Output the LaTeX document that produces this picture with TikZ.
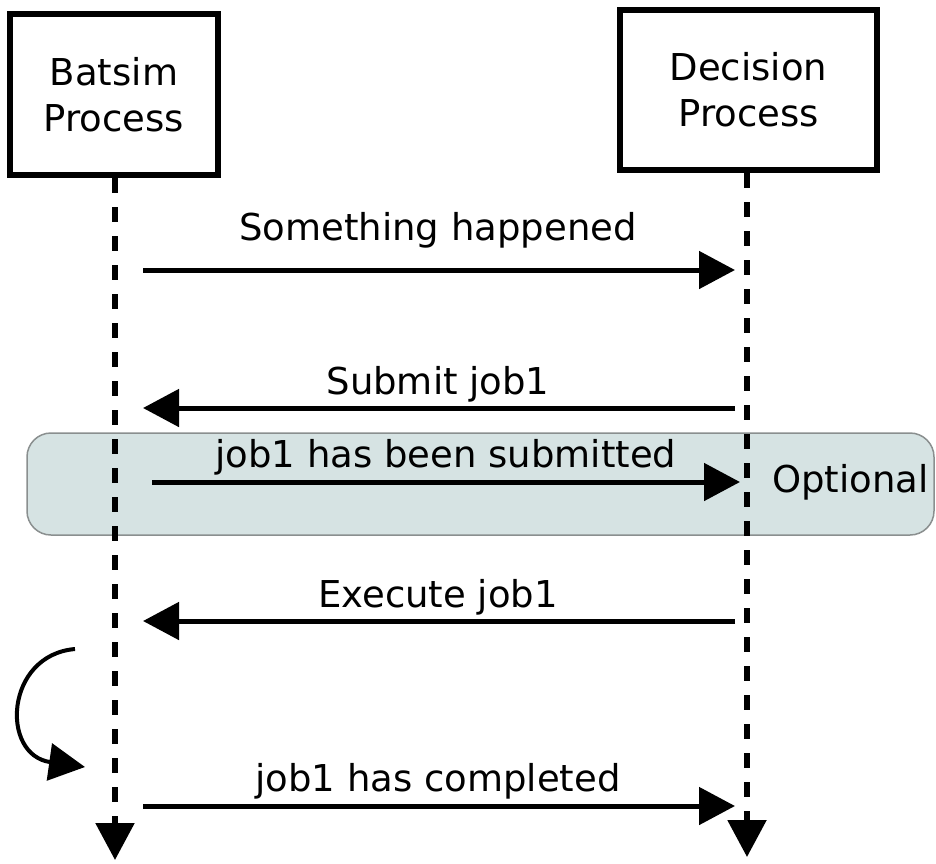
\documentclass[tikz,border=0pt]{standalone}
\usepackage{fontspec}
\setmainfont{DejaVu Sans}
\usetikzlibrary{arrows.meta}
\definecolor{bandfill}{HTML}{D6E3E3}
\definecolor{bandline}{HTML}{8A8F8F}
\begin{document}
\begin{tikzpicture}[x=1pt,y=-1pt,
  every node/.style={font=\fontsize{37}{46}\selectfont, inner sep=0pt},
  procbox/.style={draw, line width=6pt, align=center},
  lifeline/.style={line width=5.5pt, dash pattern=on 15pt off 14pt, -{Triangle[length=37pt,width=38pt]}},
  msg/.style={line width=5pt, -{Triangle[length=36pt,width=37pt]}},
  msglabel/.style={anchor=base},
  band/.style={draw=bandline, fill=bandfill, line width=1.5pt, rounded corners=24pt}]
\useasboundingbox (0,0) rectangle (936,863);

% optional region behind the lifelines
\draw[band] (27,433) rectangle (934,535);
\node[anchor=west] (opt) at (772,482) {Optional};

% participants
\node[procbox, minimum width=208pt, minimum height=161pt] (batsim) at (114,94.5) {Batsim\\Process};
\node[procbox, minimum width=257pt, minimum height=160pt] (decision) at (748.5,90) {Decision\\Process};

% lifelines
\coordinate (bEnd) at (115,860);
\coordinate (dEnd) at (747,857);
\draw[lifeline] (batsim.south -| bEnd) -- (bEnd);
\draw[lifeline] (decision.south -| dEnd) -- (dEnd);

% message end points
\coordinate (b1) at (143,270); \coordinate (d1) at (735,270);
\coordinate (b2) at (143,408); \coordinate (d2) at (735,408);
\coordinate (b3) at (152,482); \coordinate (d3) at (740,482);
\coordinate (b4) at (143,621); \coordinate (d4) at (735,621);
\coordinate (b5) at (143,806); \coordinate (d5) at (735,806);

% messages
\draw[msg] (b1) -- (d1);
\node[msglabel] (l1) at (438,240) {Something happened};
\draw[msg] (d2) -- (b2);
\node[msglabel] (l2) at (438,394) {Submit job1};
\draw[msg] (b3) -- (d3);
\node[msglabel] (l3) at (446,467) {job1 has been submitted};
\draw[msg] (d4) -- (b4);
\node[msglabel] (l4) at (438,607) {Execute job1};
\draw[msg] (b5) -- (d5);
\node[msglabel] (l5) at (438,791) {job1 has completed};

% internal processing loop
\coordinate (loopA) at (75,649);
\coordinate (loopB) at (85,767);
\draw[line width=4pt, -{Triangle[length=36pt,width=37pt]}]
  (loopA) .. controls (5,655) and (0,755) .. (loopB);
\end{tikzpicture}
\end{document}
